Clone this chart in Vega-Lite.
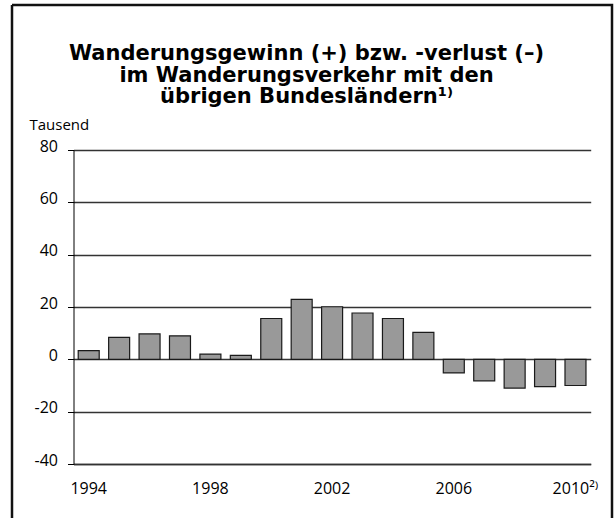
{
  "$schema": "https://vega.github.io/schema/vega-lite/v6.json",
  "width": 600,
  "height": 513,
  "autosize": {"type": "none"},
  "padding": {"left": 12, "top": 5, "right": 2, "bottom": 0},
  "background": "white",
  "title": {
    "text": ["Wanderungsgewinn (+) bzw. -verlust (–)", "im Wanderungsverkehr mit den", "übrigen Bundesländern¹⁾"],
    "anchor": "middle",
    "frame": "group",
    "offset": -123.5,
    "dx": -5.5,
    "fontSize": 21,
    "font": "DejaVu Sans",
    "fontWeight": "bold",
    "lineHeight": 21.8,
    "baseline": "bottom",
    "color": "#000000"
  },
  "data": {
    "values": [
      {"Jahr": "1994", "Saldo": 3.3},
      {"Jahr": "1995", "Saldo": 8.4},
      {"Jahr": "1996", "Saldo": 9.7},
      {"Jahr": "1997", "Saldo": 9.0},
      {"Jahr": "1998", "Saldo": 2.0},
      {"Jahr": "1999", "Saldo": 1.5},
      {"Jahr": "2000", "Saldo": 15.6},
      {"Jahr": "2001", "Saldo": 22.9},
      {"Jahr": "2002", "Saldo": 20.1},
      {"Jahr": "2003", "Saldo": 17.7},
      {"Jahr": "2004", "Saldo": 15.6},
      {"Jahr": "2005", "Saldo": 10.3},
      {"Jahr": "2006", "Saldo": -5.2},
      {"Jahr": "2007", "Saldo": -8.2},
      {"Jahr": "2008", "Saldo": -11.0},
      {"Jahr": "2009", "Saldo": -10.4},
      {"Jahr": "2010", "Saldo": -10.0}
    ]
  },
  "mark": {"type": "bar", "fill": "#999999", "stroke": "#1a1a1a", "strokeWidth": 1.2},
  "encoding": {
    "x": {
      "field": "Jahr",
      "type": "ordinal",
      "scale": {"range": [61.5, 578.7], "paddingInner": 0.31, "paddingOuter": 0.155},
      "axis": {
        "title": null,
        "values": ["1994", "1998", "2002", "2006", "2010"],
        "labelAngle": 0,
        "offset": -54,
        "ticks": false,
        "tickSize": 0,
        "grid": false,
        "domainColor": "#333333",
        "domainWidth": 1.4,
        "labelFont": "Open Sans",
        "labelFontSize": 16,
        "labelColor": "#000000",
        "labelPadding": 29,
        "labelBaseline": "alphabetic",
        "labelExpr": "datum.label == '2010' ? '  2010²⁾' : datum.label"
      }
    },
    "y": {
      "field": "Saldo",
      "type": "quantitative",
      "scale": {"domain": [-40, 80], "range": [459, 145], "nice": false, "zero": false},
      "axis": {
        "title": "Tausend",
        "titleAngle": 0,
        "titleAlign": "left",
        "titleBaseline": "alphabetic",
        "titleX": -44.5,
        "titleY": 124,
        "titleFont": "Open Sans",
        "titleFontSize": 15,
        "titleFontWeight": "normal",
        "titleColor": "#000000",
        "values": [-40, -20, 0, 20, 40, 60, 80],
        "offset": -61.5,
        "grid": true,
        "gridColor": "#333333",
        "gridWidth": 1.4,
        "domainColor": "#000000",
        "domainWidth": 1,
        "tickColor": "#000000",
        "tickSize": 6,
        "tickWidth": 1,
        "labelFont": "Open Sans",
        "labelFontSize": 16,
        "labelColor": "#000000",
        "labelPadding": 10,
        "labelBaseline": "alphabetic",
        "labelOffset": 1,
        "labelExpr": "datum.value < 0 ? '-' + abs(datum.value) : datum.label"
      }
    }
  },
  "config": {
    "font": "Open Sans",
    "view": {"stroke": "#111111", "strokeWidth": 2.5, "strokeDash": [1113, 600, 513, 0]}
  }
}
